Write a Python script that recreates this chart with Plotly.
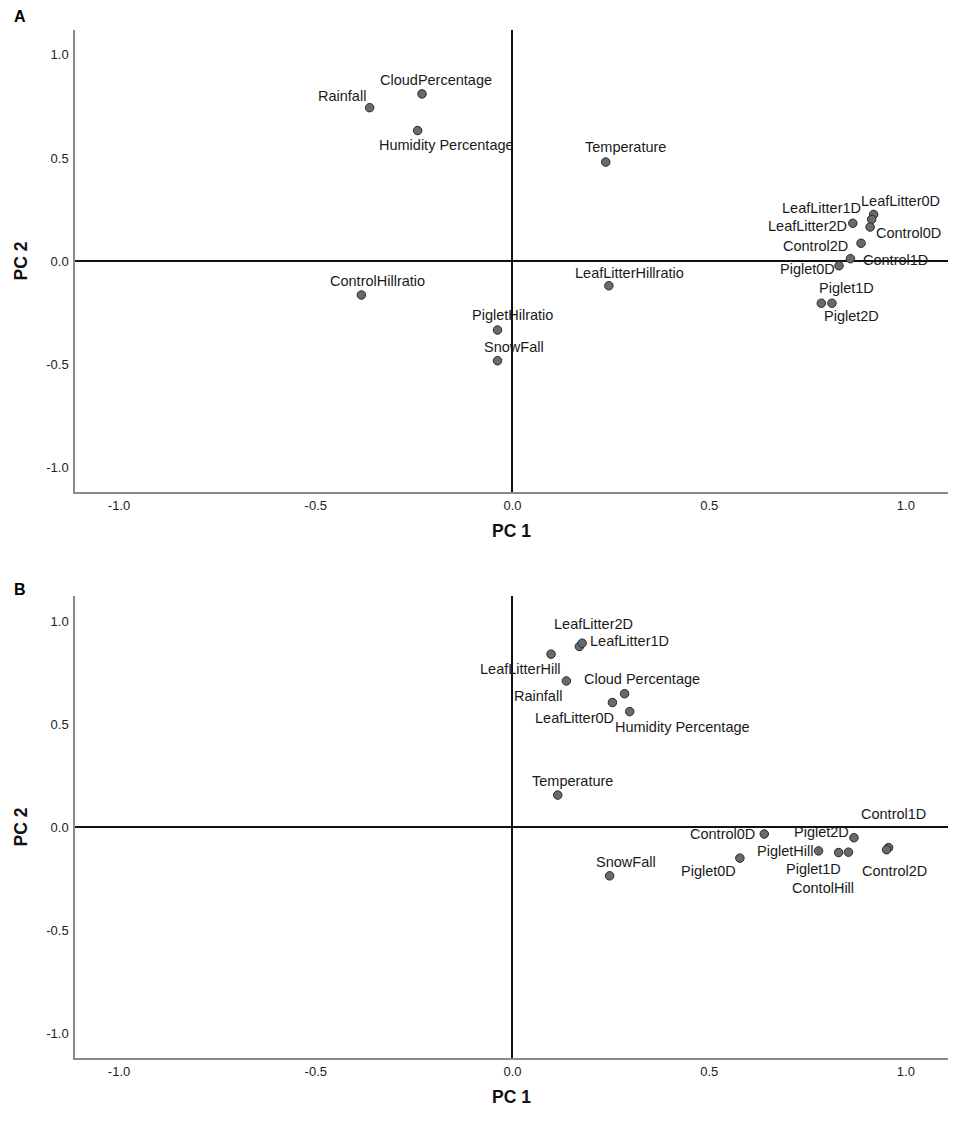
import plotly.graph_objects as go

# ---------------- Data ----------------
# Panel A
a_labels = ["Rainfall", "CloudPercentage", "Humidity Percentage", "Temperature",
            "LeafLitter0D", "LeafLitter1D", "Control0D", "LeafLitter2D",
            "Control2D", "Control1D", "Piglet0D", "Piglet1D", "Piglet2D",
            "ControlHillratio", "PigletHilratio", "SnowFall", "LeafLitterHillratio"]
a_pc1 = [-0.363, -0.230, -0.241, 0.237,
         0.918, 0.913, 0.909, 0.865,
         0.886, 0.859, 0.830, 0.785, 0.812,
         -0.384, -0.038, -0.038, 0.245]
a_pc2 = [0.744, 0.811, 0.633, 0.480,
         0.226, 0.202, 0.165, 0.183,
         0.086, 0.011, -0.023, -0.205, -0.205,
         -0.165, -0.335, -0.484, -0.120]

# Panel B
b_labels = ["LeafLitter2D", "LeafLitter1D", "LeafLitterHill", "Rainfall",
            "Cloud Percentage", "LeafLitter0D", "Humidity Percentage", "Temperature",
            "Control0D", "Piglet2D", "PigletHill", "Piglet1D", "ContolHill",
            "Control1D", "Control2D", "Piglet0D", "SnowFall"]
b_pc1 = [0.170, 0.177, 0.098, 0.137,
         0.285, 0.254, 0.298, 0.115,
         0.640, 0.868, 0.778, 0.829, 0.854,
         0.956, 0.951, 0.578, 0.247]
b_pc2 = [0.876, 0.892, 0.839, 0.709,
         0.647, 0.604, 0.560, 0.155,
         -0.034, -0.052, -0.116, -0.124, -0.122,
         -0.100, -0.110, -0.151, -0.237]

tick_vals = [-1.0, -0.5, 0.0, 0.5, 1.0]
tick_text = ["-1.0", "-0.5", "0.0", "0.5", "1.0"]

# ---------------- Label offsets (pixels: dx right, dy down) ----------------
a_offsets = {
    "Rainfall": (-28, -12), "CloudPercentage": (14, -14),
    "Humidity Percentage": (29, 14), "Temperature": (20, -15),
    "LeafLitter0D": (27, -13), "LeafLitter1D": (-50, -11),
    "Control0D": (38, 6), "LeafLitter2D": (-45, 3),
    "Control2D": (-46, 3), "Control1D": (45, 1), "Piglet0D": (-32, 3),
    "Piglet1D": (25, -15), "Piglet2D": (20, 13),
    "ControlHillratio": (16, -14), "PigletHilratio": (15, -15),
    "SnowFall": (16, -14), "LeafLitterHillratio": (21, -13),
}
b_offsets = {
    "LeafLitter2D": (14, -22), "LeafLitter1D": (47, -2),
    "LeafLitterHill": (-31, 15), "Rainfall": (-28, 15),
    "Cloud Percentage": (17, -15), "LeafLitter0D": (-38, 15),
    "Humidity Percentage": (53, 15), "Temperature": (15, -14),
    "Control0D": (-42, 0), "Piglet2D": (-32, -6), "PigletHill": (-34, 0),
    "Piglet1D": (-25, 16), "ContolHill": (-25, 36),
    "Control1D": (5, -34), "Control2D": (8, 21), "Piglet0D": (-31, 13),
    "SnowFall": (16, -14),
}

FONT = "Arial, Liberation Sans, sans-serif"
LABEL_SIZE = 14.5
marker = dict(size=8.5, color="#6a6a6a", line=dict(color="#2a2a2a", width=1))

fig = go.Figure()
fig.add_trace(go.Scatter(x=a_pc1, y=a_pc2, mode="markers", marker=marker,
                         xaxis="x", yaxis="y", hoverinfo="text", text=a_labels,
                         showlegend=False))
fig.add_trace(go.Scatter(x=b_pc1, y=b_pc2, mode="markers", marker=marker,
                         xaxis="x2", yaxis="y2", hoverinfo="text", text=b_labels,
                         showlegend=False))

annotations = []
for lab, x, y in zip(a_labels, a_pc1, a_pc2):
    dx, dy = a_offsets[lab]
    annotations.append(dict(x=x, y=y, xref="x", yref="y", text=lab, showarrow=False,
                            xanchor="center", yanchor="middle", xshift=dx, yshift=-dy,
                            font=dict(family=FONT, size=LABEL_SIZE, color="#1a1a1a")))
for lab, x, y in zip(b_labels, b_pc1, b_pc2):
    dx, dy = b_offsets[lab]
    annotations.append(dict(x=x, y=y, xref="x2", yref="y2", text=lab, showarrow=False,
                            xanchor="center", yanchor="middle", xshift=dx, yshift=-dy,
                            font=dict(family=FONT, size=LABEL_SIZE, color="#1a1a1a")))

# Panel letters
annotations.append(dict(x=-0.072, y=1.0136, xref="paper", yref="paper",
                        text="<b>A</b>", showarrow=False, xanchor="left", yanchor="middle",
                        font=dict(family=FONT, size=16, color="black")))
annotations.append(dict(x=-0.072, y=0.4451, xref="paper", yref="paper",
                        text="<b>B</b>", showarrow=False, xanchor="left", yanchor="bottom",
                        font=dict(family=FONT, size=16, color="black")))

xr = [-1.112, 1.107]
yr = [-1.121, 1.121]

def xaxis(anchor):
    return dict(range=xr, tickvals=tick_vals, ticktext=tick_text, anchor=anchor,
                showgrid=False, zeroline=True, zerolinecolor="#111", zerolinewidth=1.5,
                showline=True, linecolor="#8a8a8a", linewidth=1.5, ticks="",
                ticklabelstandoff=1,
                tickfont=dict(family=FONT, size=13, color="#222"),
                title=dict(text="<b>PC 1</b>", standoff=12,
                           font=dict(family=FONT, size=17.5, color="#111")))

def yaxis(anchor, domain):
    return dict(range=yr, tickvals=tick_vals, ticktext=tick_text, anchor=anchor,
                domain=domain,
                showgrid=False, zeroline=True, zerolinecolor="#111", zerolinewidth=1.5,
                showline=True, linecolor="#8a8a8a", linewidth=1.5, ticks="",
                ticklabelstandoff=2,
                tickfont=dict(family=FONT, size=13, color="#222"),
                title=dict(text="<b>PC 2</b>", standoff=14,
                           font=dict(family=FONT, size=17.5, color="#111")))

fig.update_layout(
    width=957, height=1122,
    margin=dict(l=61, r=17, t=22, b=72),
    paper_bgcolor="white", plot_bgcolor="white",
    xaxis=xaxis("y"), yaxis=yaxis("x", [0.5506, 1.0]),
    xaxis2=xaxis("y2"), yaxis2=yaxis("x2", [0.0, 0.4494]),
    annotations=annotations,
)

fig.write_html("out.html")
